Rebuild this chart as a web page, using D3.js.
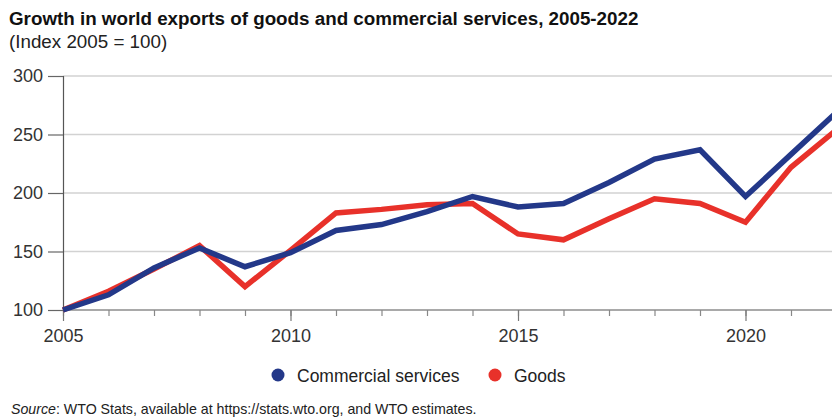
<!DOCTYPE html>
<html><head><meta charset="utf-8">
<script src="https://cdn.jsdelivr.net/npm/d3@7"></script>
<style>
html,body{margin:0;padding:0;background:#fff;}
svg{display:block;font-family:"Liberation Sans",Arial,Helvetica,sans-serif;}
</style></head><body>
<svg id="chart" width="832" height="418"></svg>
<script>
const years = [2005,2006,2007,2008,2009,2010,2011,2012,2013,2014,2015,2016,2017,2018,2019,2020,2021,2022];
const services = [100,113,136,153,137,149,168,173,184,197,188,191,209,229,237,197,233,269];
const goods = [100,116,135,155,120,151,183,186,190,191,165,160,178,195,191,175,222,254];
const yTicks = [100,150,200,250,300];
const xLabelTicks = [2005,2010,2015,2020];
const seriesNames = ["Commercial services","Goods"];
const seriesColors = ["#233889","#e8312a"];

const svg = d3.select("#chart");
const W = 832;
const x = d3.scaleLinear().domain([2005,2022]).range([63, 63 + 17*45.5]);
const y = d3.scaleLinear().domain([100,300]).range([310, 76]);

// title
svg.append("text").attr("x",9).attr("y",25).attr("font-weight","bold").attr("font-size","18.8px").attr("fill","#111")
  .text("Growth in world exports of goods and commercial services, 2005-2022");
svg.append("text").attr("x",9).attr("y",48).attr("font-size","18.8px").attr("fill","#222")
  .text("(Index 2005 = 100)");

// gridlines
svg.append("g").selectAll("line").data(yTicks.filter(d=>d>100)).join("line")
  .attr("x1",63).attr("x2",W).attr("y1",d=>y(d)).attr("y2",d=>y(d))
  .attr("stroke","#d2d2d2").attr("stroke-width",1.5);

// y axis
const yAxis = d3.axisLeft(y).tickValues(yTicks).tickSize(15).tickPadding(5).tickFormat(d3.format("d"));
const gy = svg.append("g").attr("transform","translate(63,0)").call(yAxis);
gy.select(".domain").attr("stroke","#555").attr("stroke-width",1.2);
gy.selectAll(".tick line").attr("stroke","#666").attr("stroke-width",1.2);
gy.selectAll(".tick text").attr("font-size","18px").attr("fill","#333").attr("font-family","Liberation Sans, Arial, sans-serif");

// x axis
const xMinor = d3.axisBottom(x).tickValues(years).tickSize(6).tickFormat("");
const gxm = svg.append("g").attr("transform","translate(0,310)").call(xMinor);
gxm.select(".domain").attr("stroke","#555").attr("stroke-width",1.2).attr("d",`M63,0H${W}`);
gxm.selectAll(".tick line").attr("stroke","#888").attr("stroke-width",1.2);
const xMajor = d3.axisBottom(x).tickValues(xLabelTicks).tickSize(11).tickPadding(8).tickFormat(d3.format("d"));
const gx = svg.append("g").attr("transform","translate(0,310)").call(xMajor);
gx.select(".domain").remove();
gx.selectAll(".tick line").attr("stroke","#777").attr("stroke-width",1.2);
gx.selectAll(".tick text").attr("font-size","18px").attr("fill","#333").attr("font-family","Liberation Sans, Arial, sans-serif");

// lines
const line = d3.line().x((d,i)=>x(years[i])).y(d=>y(d));
svg.append("path").datum(goods).attr("d",line).attr("fill","none").attr("stroke",seriesColors[1]).attr("stroke-width",5.5);
svg.append("path").datum(services).attr("d",line).attr("fill","none").attr("stroke",seriesColors[0]).attr("stroke-width",5.5);

// legend
const legX = [278, 495];
const lg = svg.append("g");
seriesNames.forEach((n,i)=>{
  lg.append("circle").attr("cx",legX[i]).attr("cy",375).attr("r",6.5).attr("fill",seriesColors[i]);
  lg.append("text").attr("x",legX[i]+19).attr("y",381.5).attr("font-size","17.5px").attr("fill","#222").text(n);
});

// source
const src = svg.append("text").attr("x",11).attr("y",414).attr("font-size","14.2px").attr("fill","#222");
src.append("tspan").attr("font-style","italic").text("Source");
src.append("tspan").text(": WTO Stats, available at https://stats.wto.org, and WTO estimates.");
</script>
</body></html>
